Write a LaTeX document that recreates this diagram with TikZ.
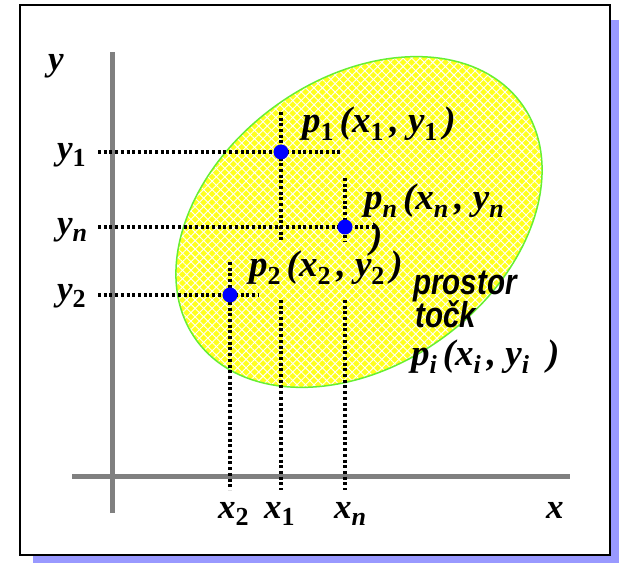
\documentclass[tikz,border=0pt]{standalone}
\usepackage{fontspec}
\setmainfont{Liberation Serif}
\newfontfamily\narrowsans{Liberation Sans}
\usepackage{graphicx}
\usetikzlibrary{patterns.meta}
\definecolor{shadowblue}{RGB}{153,153,255}
\definecolor{axisgray}{RGB}{128,128,128}
\definecolor{setyellow}{RGB}{255,255,30}
\definecolor{setgreen}{RGB}{102,240,51}
\newcommand{\subd}[1]{\raisebox{-0.2em}{\fontsize{26}{28}\selectfont\upshape #1}\hspace{6pt}}
\newcommand{\subi}[1]{\raisebox{-0.2em}{\fontsize{26}{28}\selectfont #1}\hspace{6pt}}

\begin{document}
\begin{tikzpicture}[x=1pt, y=1pt,
  lbl/.style={font=\fontsize{35}{40}\selectfont\bfseries\itshape, inner sep=0pt, anchor=base west},
  plbl/.style={lbl, font=\fontsize{37}{42}\selectfont\bfseries\itshape},
  word/.style={font=\fontsize{36}{40}\selectfont\narrowsans\bfseries\itshape, inner sep=0pt, anchor=base west},
  axisline/.style={draw=axisgray, line width=5pt},
  guide/.style={line width=3.4pt, dash pattern=on 3pt off 2.7pt},
  dot/.style={circle, fill=blue, inner sep=0pt, minimum size=15pt},
  region/.style={x radius=201pt, y radius=143pt, rotate=36}]
  \useasboundingbox (0,0) rectangle (619,563);
  % frame with shadow
  \fill[shadowblue] (33,0) rectangle (619,543);
  \draw[fill=white, line width=1.5pt] (20,8) rectangle (610,558);

  % point set
  \fill[setyellow] (359,341) ellipse [region];
  \fill[pattern={Lines[angle=45, distance=6pt, line width=0.9pt]}, pattern color=white]
       (359,341) ellipse [region];
  \fill[pattern={Lines[angle=-45, distance=6pt, line width=0.9pt]}, pattern color=white]
       (359,341) ellipse [region];
  \draw[setgreen, line width=1.5pt] (359,341) ellipse [region];

  % axes
  \draw[axisline] (112,50) -- (112,511);
  \draw[axisline] (72,87) -- (570,87);

  % guides
  \draw[guide] (98,411) -- (343,411);
  \draw[guide] (281,451) -- (281,321);
  \draw[guide] (281,263) -- (281,73);
  \draw[guide] (98,336) -- (375,336);
  \draw[guide] (345,385) -- (345,321);
  \draw[guide] (345,263) -- (345,73);
  \draw[guide] (98,268) -- (258,268);
  \draw[guide] (230,301) -- (230,73);

  \node[dot] (p1) at (281,411) {};
  \node[dot] (pn) at (345,336) {};
  \node[dot] (p2) at (230,268) {};

  % labels
  \node[lbl] (ylab) at (48,492) {y};
  \node[lbl] (y1) at (57,403) {y\subd{1}};
  \node[lbl] (yn) at (57,328) {y\subi{n}};
  \node[lbl] (y2) at (57,262) {y\subd{2}};
  \node[lbl] (x2) at (218,45) {x\subd{2}};
  \node[lbl] (x1) at (264,45) {x\subd{1}};
  \node[lbl] (xn) at (334,45) {x\subi{n}};
  \node[lbl] (xlab) at (546,45) {x};

  \node[plbl] (p1lab) at (302,430) {p\subd{1}(x\subd{1}, y\subd{1})};
  \node[plbl] (pnlab) at (364,353) {p\subi{n}(x\subi{n}, y\subi{n}};
  \node[plbl] (pnclose) at (370,314) {)};
  \node[plbl] (p2lab) at (249,286) {p\subd{2}(x\subd{2}, y\subd{2})};
  \node[word] (prostor) at (413,268) {\scalebox{0.82}[1]{prostor}};
  \node[word] (tock) at (415,235) {\scalebox{0.82}[1]{točk}};
  \node[plbl] (pilab) at (411,197) {p\subi{i}(x\subi{i}, y\subi{i}\hspace{12pt})};
\end{tikzpicture}
\end{document}
